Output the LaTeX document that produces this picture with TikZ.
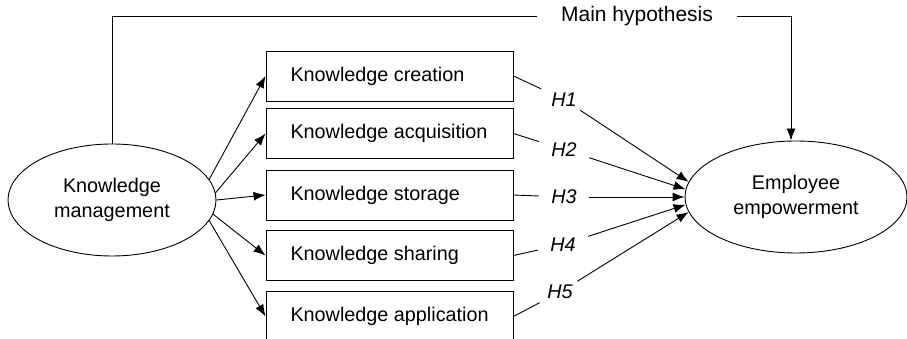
\documentclass[tikz,border=0pt]{standalone}
\usepackage{fontspec}
\setmainfont{Liberation Sans}
\usetikzlibrary{shapes.geometric,arrows.meta}
\tikzset{
  >={Latex[length=12pt,width=9pt]},
  every node/.style={font=\fontsize{19.8}{25}\selectfont},
  oval/.style={draw, ellipse, inner sep=0pt, align=center, line width=0.9pt},
  kbox/.style={draw, minimum height=50pt, inner xsep=24.5pt, line width=0.9pt},
  hlab/.style={inner xsep=12pt, font=\fontsize{19.8}{25}\selectfont\itshape}
}
\begin{document}
\begin{tikzpicture}[x=1pt, y=1pt, line width=0.9pt]
        \useasboundingbox (0,0) rectangle (907,339);
        \node[oval, minimum width=208pt, minimum height=112pt] (km) at (112,139) {Knowledge\\management};
        \node[oval, minimum width=222pt, minimum height=112pt] (ee) at (796,142) {Employee\\empowerment};
        \foreach \n/\y/\t in {1/263/creation, 2/205.5/acquisition, 3/144/storage, 4/83.5/sharing, 5/22.5/application}
            {\node[kbox] (b\n) at (389.5,\y) {\makebox[198pt][l]{Knowledge \t}};}
        \foreach \n/\a in {1/12, 2/4, 3/0, 4/352, 5/348} {\draw[->] (km.\a) -- (b\n.west);}
        \foreach \n/\x/\y/\a in {1/564/239.5/172, 2/564/189.5/176, 3/564/142/180, 4/563/94.5/184, 5/560/47/188} {
            \node[hlab] (h\n) at (\x,\y) {H\n};
            \draw (b\n.east) -- (h\n);
            \draw[->] (h\n) -- (ee.\a);
        }
        \node[inner xsep=23.5pt, font=\fontsize{21}{25}\selectfont] (mh) at (637,323) {Main hypothesis};
        \draw (km.north) |- (mh.west);
        \draw[->] (mh.east) -| ([xshift=-5pt]ee.north);
    \end{tikzpicture}
\end{document}
